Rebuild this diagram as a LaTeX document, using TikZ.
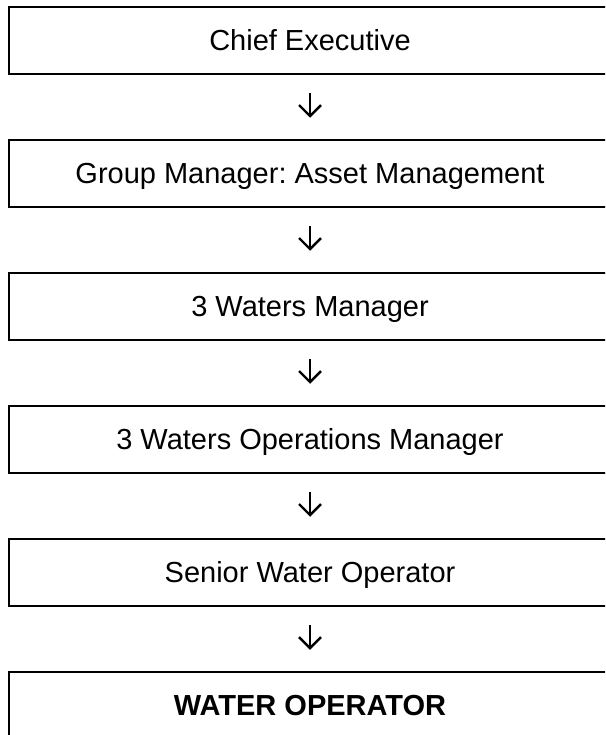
\documentclass[tikz,border=0pt]{standalone}
\usepackage{fontspec}
\setmainfont{Liberation Sans}
\usetikzlibrary{arrows.meta}
\frenchspacing
\begin{document}
\begin{tikzpicture}[x=1pt,y=1pt,
  rolebox/.style={draw, line width=2.5pt, rectangle, minimum width=602pt,
    minimum height=67pt, inner sep=0pt, text height=20.8pt, text depth=0pt,
    font=\fontsize{29}{34}\selectfont},
  conn/.style={line width=2.4pt, -{Straight Barb[length=11pt,width=22pt]},
    shorten <=18pt, shorten >=21pt}
]
\useasboundingbox (0,0) rectangle (605,-735);
\clip (0,0) rectangle (605,-735);
\node[rolebox] (b1) at (310,-40.5) {Chief Executive};
\node[rolebox] (b2) at (310,-173.5) {Group Manager: Asset Management};
\node[rolebox] (b3) at (310,-306.5) {3 Waters Manager};
\node[rolebox] (b4) at (310,-439.5) {3 Waters Operations Manager};
\node[rolebox] (b5) at (310,-572.5) {Senior Water Operator};
\node[rolebox, font=\fontsize{29}{34}\selectfont\bfseries] (b6) at (310,-705.5) {WATER OPERATOR};
\draw[conn] (b1.south) -- (b2.north);
\draw[conn] (b2.south) -- (b3.north);
\draw[conn] (b3.south) -- (b4.north);
\draw[conn] (b4.south) -- (b5.north);
\draw[conn] (b5.south) -- (b6.north);
\end{tikzpicture}
\end{document}
